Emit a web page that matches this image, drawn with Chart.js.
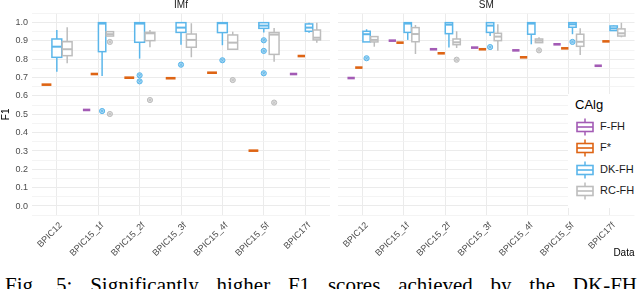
<!DOCTYPE html>
<html>
<head>
<meta charset="utf-8">
<script src="https://cdn.jsdelivr.net/npm/chart.js@4.4.1/dist/chart.umd.min.js"></script>
<style>
    html, body { margin: 0; padding: 0; overflow: hidden; background: #fff; font-family: 'Liberation Sans', Arial, sans-serif; }
    #wrap { position: relative; width: 640px; height: 289px; overflow: hidden; }
    #imf { position: absolute; left: 0; top: 0; }
    #sm { position: absolute; left: 333px; top: 0; }
    .legend { position: absolute; left: 568px; top: 94px; width: 72px; height: 114px; background: #fff; }
    .legend .title { position: absolute; left: 7px; top: 3px; font-size: 13px; color: #000; }
    .legend .item { position: absolute; left: 8px; height: 18px; }
    .legend svg { position: absolute; left: 0; top: 0; }
    .legend .label { position: absolute; left: 24px; top: 2px; font-size: 11px; color: #1a1a1a; white-space: nowrap; }
    .caption { position: absolute; left: 5px; top: 275px; width: 632px; font: 21px 'Liberation Serif', 'Times New Roman', serif; line-height: 1; text-align: justify; text-align-last: justify; color: #000; }
</style>
</head>
<body>
<div id="wrap">
<canvas id="imf" width="335" height="262"></canvas>
<canvas id="sm" width="307" height="262"></canvas>
<div class="legend" id="legend"><div class="title">CAlg</div></div>
<div class="caption">Fig. 5: Significantly higher F1 scores achieved by the DK-FH</div>
</div>

<script>
// categories and groups
const categories = ['BPIC12', 'BPIC15_1f', 'BPIC15_2f', 'BPIC15_3f', 'BPIC15_4f', 'BPIC15_5f', 'BPIC17f'];
const algorithms = ['F-FH', 'F*', 'DK-FH', 'RC-FH'];
const algColors = ['#a35bb5', '#de6414', '#5bb6ea', '#bdbdbd'];
const yTicks = [0.0, 0.1, 0.2, 0.3, 0.4, 0.5, 0.6, 0.7, 0.8, 0.9, 1.0];

// single number = collapsed box, [low, q1, median, q3, high] = box, null = missing
const imfFFH = [null, 0.524, null, null, null, null, 0.72];
const imfFStar = [0.662, 0.72, 0.70, 0.697, 0.727, 0.302, 0.818];
const imfDK = [
    [0.733, 0.811, 0.869, 0.911, 0.96],
    [0.709, 0.842, 0.995, 1.0, 1.0],
    [0.804, 0.893, 0.995, 1.0, 1.0],
    [0.88, 0.947, 0.973, 1.0, 1.0],
    [0.877, 0.946, 0.997, 1.0, 1.0],
    [0.947, 0.969, 0.984, 1.0, 1.0],
    [0.945, 0.953, 0.973, 0.993, 1.0]
];
const imfDKOut = [[], [0.518], [0.713, 0.68], [0.771], [0.795], [0.904, 0.846, 0.724], []];
const imfRC = [
    [0.778, 0.82, 0.855, 0.896, 0.975],
    [0.927, 0.927, 0.937, 0.951, 0.955],
    [0.866, 0.902, 0.942, 0.947, 0.96],
    [0.811, 0.866, 0.906, 0.938, 0.997],
    [0.855, 0.855, 0.891, 0.933, 0.951],
    [0.787, 0.827, 0.935, 0.946, 0.971],
    [0.891, 0.906, 0.918, 0.96, 1.0]
];
const imfRCOut = [[], [0.895, 0.502], [0.578], [], [0.687], [0.564], []];

const smFFH = [0.698, 0.902, 0.855, 0.864, 0.849, 0.882, 0.765];
const smFStar = [0.755, 0.891, 0.833, 0.855, 0.811, 0.86, 0.898];
const smDK = [
    [0.895, 0.895, 0.937, 0.953, 0.964],
    [0.906, 0.947, 0.995, 1.0, 1.0],
    [0.864, 0.94, 0.989, 1.0, 1.0],
    [0.927, 0.947, 0.984, 1.0, 1.0],
    [0.882, 0.937, 0.995, 1.0, 1.0],
    [0.937, 0.975, 0.991, 1.0, 1.0],
    [0.955, 0.957, 0.969, 0.982, 0.985]
];
const smDKOut = [[0.806], [], [], [0.867], [], [0.895], []];
const smRC = [
    [0.869, 0.895, 0.906, 0.924, 0.924],
    [0.829, 0.896, 0.938, 0.973, 0.987],
    [0.862, 0.88, 0.893, 0.911, 0.953],
    [0.847, 0.902, 0.924, 0.942, 0.991],
    [0.891, 0.891, 0.902, 0.911, 0.92],
    [0.824, 0.871, 0.896, 0.937, 0.969],
    [0.92, 0.927, 0.942, 0.966, 1.0]
];
const smRCOut = [[], [], [0.798], [], [0.849], [], []];

const empty = categories.map(() => []);

// dodge: boxes share 0.75 of a category among the groups present there
function dodge(panel, cat, alg) {
    const present = panel.filter(s => s.values[cat] != null).map(s => s.alg);
    const w = 0.75 / present.length;
    const k = present.indexOf(alg);
    return { offset: -0.375 + w * (k + 0.5), width: w };
}

function isMajor(v) {
    return yTicks.some(t => Math.abs(t - v) < 1e-6);
}

function makeBoxPlugin(panel) {
    return {
        id: 'boxes',
        beforeDatasetsDraw(chart) {
            const { ctx, scales: { x, y } } = chart;
            ctx.save();
            panel.forEach(s => {
                const color = algColors[s.alg];
                s.values.forEach((v, cat) => {
                    if (v == null) return;
                    const d = dodge(panel, cat, s.alg);
                    const cx = x.getPixelForValue(cat + d.offset);
                    const half = (x.getPixelForValue(d.width * 0.95) - x.getPixelForValue(0)) / 2;
                    ctx.strokeStyle = color;
                    if (typeof v === 'number') {
                        ctx.lineWidth = 2.6;
                        ctx.beginPath();
                        ctx.moveTo(cx - half, y.getPixelForValue(v));
                        ctx.lineTo(cx + half, y.getPixelForValue(v));
                        ctx.stroke();
                        return;
                    }
                    const [lo, q1, med, q3, hi] = v.map(n => y.getPixelForValue(n));
                    ctx.lineWidth = 1.5;
                    ctx.beginPath();
                    ctx.moveTo(cx, lo); ctx.lineTo(cx, q1);
                    ctx.moveTo(cx, q3); ctx.lineTo(cx, hi);
                    ctx.stroke();
                    ctx.fillStyle = '#fff';
                    ctx.fillRect(cx - half, q3, half * 2, q1 - q3);
                    ctx.strokeRect(cx - half, q3, half * 2, q1 - q3);
                    ctx.lineWidth = 2;
                    ctx.beginPath();
                    ctx.moveTo(cx - half, med); ctx.lineTo(cx + half, med);
                    ctx.stroke();
                });
            });
            ctx.restore();
        }
    };
}

function outlierDatasets(panel) {
    const sets = [];
    panel.forEach(s => {
        const pts = [];
        s.outliers.forEach((list, cat) => {
            const d = dodge(panel, cat, s.alg);
            list.forEach(v => pts.push({ x: cat + d.offset, y: v }));
        });
        const color = algColors[s.alg];
        sets.push({ data: pts, pointStyle: 'circle', pointRadius: 2.6, backgroundColor: color + '88', borderColor: color, borderWidth: 1 });
        sets.push({ data: pts, pointStyle: 'crossRot', pointRadius: 1.8, borderColor: color, borderWidth: 0.8 });
    });
    return sets;
}

function buildChart(canvasId, title, panel, opts) {
    const yGrid = [];
    for (let i = -1; i <= 21; i++) yGrid.push(+(i * 0.05).toFixed(2));

    return new Chart(document.getElementById(canvasId), {
        type: 'scatter',
        data: { datasets: outlierDatasets(panel) },
        plugins: [makeBoxPlugin(panel)],
        options: {
            responsive: false,
            animation: false,
            layout: { padding: { left: 0, right: opts.padRight, top: 0, bottom: 0 } },
            plugins: {
                legend: { display: false },
                tooltip: { enabled: false },
                title: {
                    display: true, text: title, fullSize: false, color: '#1a1a1a',
                    font: { family: 'Liberation Sans', size: 10, weight: 'normal', lineHeight: 1 },
                    padding: { top: 0, bottom: 3.5 }
                }
            },
            scales: {
                x: {
                    type: 'linear', min: -0.6, max: 6.6,
                    afterBuildTicks: s => { s.ticks = categories.map((c, i) => ({ value: i })); },
                    afterFit: s => { s.height = 46.8; },
                    border: { display: false },
                    grid: { color: '#ebebeb', lineWidth: 1, drawTicks: false },
                    ticks: {
                        autoSkip: false, minRotation: 45, maxRotation: 45, padding: 5, labelOffset: 4,
                        color: '#4d4d4d', font: { family: 'Liberation Sans', size: 9 },
                        callback: v => categories[v]
                    },
                    title: {
                        display: opts.xTitle, text: 'Data', align: 'end', color: '#000',
                        font: { family: 'Liberation Sans', size: 10 }, padding: { top: 0, bottom: 3 }
                    }
                },
                y: {
                    min: -0.05, max: 1.05,
                    afterBuildTicks: s => { s.ticks = yGrid.map(v => ({ value: v })); },
                    afterFit: s => { s.width = opts.yWidth; },
                    border: { display: false },
                    grid: {
                        drawTicks: false,
                        color: c => isMajor(c.tick.value) ? '#ebebeb' : '#f1f1f1',
                        lineWidth: c => isMajor(c.tick.value) ? 1.1 : 0.8
                    },
                    ticks: {
                        display: opts.yLabels, autoSkip: false, padding: 4, color: '#4d4d4d',
                        font: { family: 'Liberation Sans', size: 9 },
                        callback: v => isMajor(v) ? v.toFixed(1) : ''
                    },
                    title: {
                        display: opts.yLabels, text: 'F1', color: '#000',
                        font: { family: 'Liberation Sans', size: 10 }, padding: 0
                    }
                }
            }
        }
    });
}

const imfPanel = [
    { alg: 0, values: imfFFH, outliers: empty },
    { alg: 1, values: imfFStar, outliers: empty },
    { alg: 2, values: imfDK, outliers: imfDKOut },
    { alg: 3, values: imfRC, outliers: imfRCOut }
];
const smPanel = [
    { alg: 0, values: smFFH, outliers: empty },
    { alg: 1, values: smFStar, outliers: empty },
    { alg: 2, values: smDK, outliers: smDKOut },
    { alg: 3, values: smRC, outliers: smRCOut }
];

buildChart('imf', 'IMf', imfPanel, { padRight: 4, yWidth: 32, yLabels: true, xTitle: false });
buildChart('sm', 'SM', smPanel, { padRight: 5.5, yWidth: 2, yLabels: false, xTitle: true });

// legend with small boxplot glyphs
const legend = document.getElementById('legend');
algorithms.forEach((name, i) => {
    const c = algColors[i];
    const item = document.createElement('div');
    item.className = 'item';
    item.style.top = (24 + i * 21.3) + 'px';
    item.innerHTML = `
        <svg width="18" height="18" viewBox="0 0 18 18">
            <line x1="9" y1="0.5" x2="9" y2="17.5" stroke="${c}" stroke-width="1.5"/>
            <rect x="1" y="4.5" width="16" height="9" fill="#fff" stroke="${c}" stroke-width="1.6"/>
            <line x1="1" y1="9" x2="17" y2="9" stroke="${c}" stroke-width="1.6"/>
        </svg>
        <div class="label">${name}</div>`;
    legend.appendChild(item);
});
</script>
</body>
</html>
